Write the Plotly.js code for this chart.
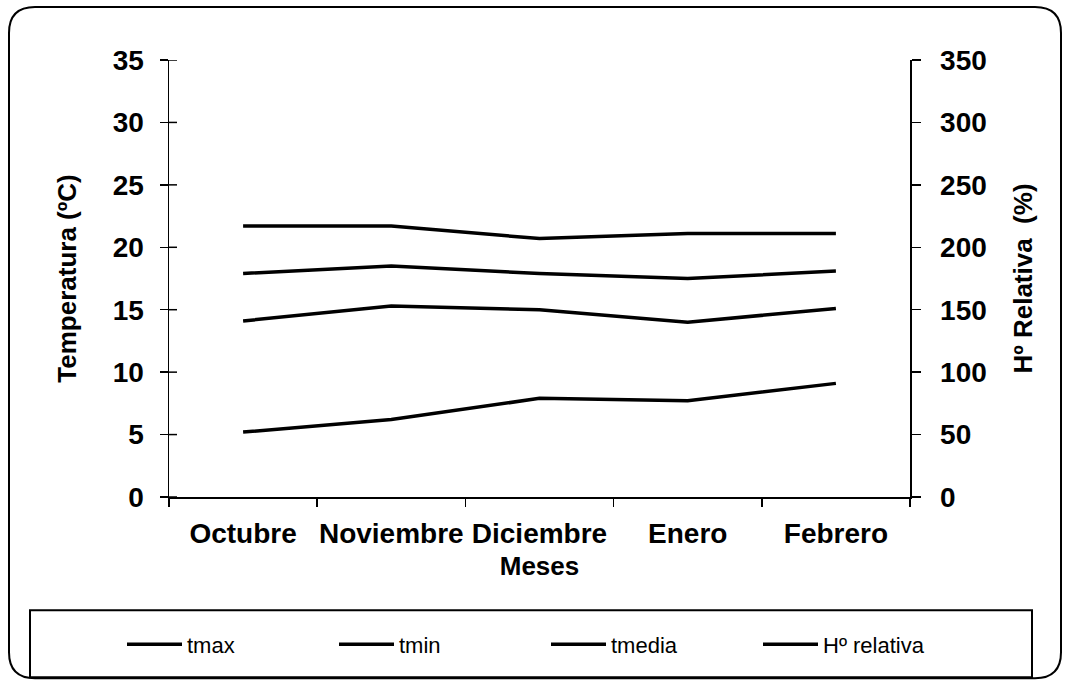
<!DOCTYPE html>
<html>
<head>
<meta charset="utf-8">
<script src="https://cdn.plot.ly/plotly-3.0.1.min.js"></script>
<style>
html,body{margin:0;padding:0;background:#fff;}
#chart{width:1068px;height:681px;}
</style>
</head>
<body>
<div id="chart"></div>
<script>
// ---- data ----
var meses = ["Octubre", "Noviembre", "Diciembre", "Enero", "Febrero"];
var tmax = [21.7, 21.7, 20.7, 21.1, 21.1];
var tmin = [14.1, 15.3, 15.0, 14.0, 15.1];
var tmedia = [17.9, 18.5, 17.9, 17.5, 18.1];
var hRelativa = [52, 62, 79, 77, 91];
var tempTicks = [0, 5, 10, 15, 20, 25, 30, 35];
var humTicks = [0, 50, 100, 150, 200, 250, 300, 350];

// ---- layout geometry (pixels) ----
var W = 1068, H = 681;
var L = 169, R = 910, T = 60, B = 497.5;
var pw = R - L, ph = B - T;
function px(x){ return (x - L) / pw; }
function py(y){ return (B - y) / ph; }

var fontFam = "Liberation Sans, Arial, sans-serif";
var lineStyle = {color: "#000", width: 3.5};

var traces = [
  {x: meses, y: tmax, name: "tmax", type: "scatter", mode: "lines", line: lineStyle, yaxis: "y"},
  {x: meses, y: tmin, name: "tmin", type: "scatter", mode: "lines", line: lineStyle, yaxis: "y"},
  {x: meses, y: tmedia, name: "tmedia", type: "scatter", mode: "lines", line: lineStyle, yaxis: "y"},
  {x: meses, y: hRelativa, name: "Hº relativa", type: "scatter", mode: "lines", line: lineStyle, yaxis: "y2"}
];

// rounded outer frame
var x0 = px(9), x1 = px(1061), y0 = py(679), y1 = py(7);
var rx = 26 / pw, ry = 26 / ph;
var framePath = "M" + (x0 + rx) + "," + y1 +
  " L" + (x1 - rx) + "," + y1 +
  " Q" + x1 + "," + y1 + " " + x1 + "," + (y1 - ry) +
  " L" + x1 + "," + (y0 + ry) +
  " Q" + x1 + "," + y0 + " " + (x1 - rx) + "," + y0 +
  " L" + (x0 + rx) + "," + y0 +
  " Q" + x0 + "," + y0 + " " + x0 + "," + (y0 + ry) +
  " L" + x0 + "," + (y1 - ry) +
  " Q" + x0 + "," + y1 + " " + (x0 + rx) + "," + y1 + " Z";

var shapes = [
  {type: "path", xref: "paper", yref: "paper", path: framePath,
   line: {color: "#000", width: 2}, fillcolor: "rgba(0,0,0,0)", layer: "below"},
  {type: "rect", xref: "paper", yref: "paper",
   x0: px(30), x1: px(1032), y0: py(678), y1: py(611),
   line: {color: "#000", width: 2}, fillcolor: "rgba(0,0,0,0)", layer: "below"}
];
// inner half of the cross-shaped tick marks on the left axis (placed by the y scale)
tempTicks.forEach(function(v){
  shapes.push({type: "line", xref: "paper", yref: "y", x0: 0, x1: 8 / pw, y0: v, y1: v,
               line: {color: "#000", width: 1.5}, layer: "above"});
});

var tickFont = {family: fontFam, size: 28, color: "#000", weight: "bold"};
var titleFont = {family: fontFam, size: 26, color: "#000", weight: "bold"};

var layout = {
  width: W, height: H,
  margin: {l: L, r: W - R, t: T, b: H - B, pad: 0},
  paper_bgcolor: "#fff", plot_bgcolor: "rgba(0,0,0,0)",
  showlegend: true,
  font: {family: fontFam, color: "#000"},
  xaxis: {
    type: "category", range: [-0.5, 4.5],
    showgrid: false, zeroline: false,
    showline: true, linecolor: "#000", linewidth: 1.5,
    ticks: "outside", ticklen: 8, tickcolor: "#000", tickwidth: 1.5,
    tickson: "boundaries", tickangle: 0,
    tickfont: tickFont, ticklabelstandoff: 11,
    title: {text: "Meses", font: titleFont, standoff: 8}
  },
  yaxis: {
    range: [0, 35], tickvals: tempTicks,
    showgrid: false, zeroline: false,
    showline: true, linecolor: "#000", linewidth: 1.5,
    ticks: "outside", ticklen: 8, tickcolor: "#000", tickwidth: 1.5,
    tickfont: tickFont, ticklabelstandoff: 10,
    title: {text: "Temperatura (ºC)", font: titleFont, standoff: 28}
  },
  yaxis2: {
    range: [0, 350], tickvals: humTicks, overlaying: "y", side: "right",
    showgrid: false, zeroline: false,
    showline: true, linecolor: "#000", linewidth: 1.5,
    ticks: "outside", ticklen: 9, tickcolor: "#000", tickwidth: 1.5,
    tickfont: tickFont, ticklabelstandoff: 14,
    title: {text: "Hº Relativa  (%)", font: titleFont, standoff: 28}
  },
  legend: {
    orientation: "h",
    x: px(122), xanchor: "left",
    y: py(645), yanchor: "middle",
    font: {family: fontFam, size: 22, color: "#000"},
    bgcolor: "rgba(0,0,0,0)",
    borderwidth: 0,
    entrywidth: 142, entrywidthmode: "pixels",
    itemwidth: 55,
    itemclick: false, itemdoubleclick: false
  },
  shapes: shapes
};

Plotly.newPlot("chart", traces, layout, {staticPlot: true, displayModeBar: false});
</script>
</body>
</html>
